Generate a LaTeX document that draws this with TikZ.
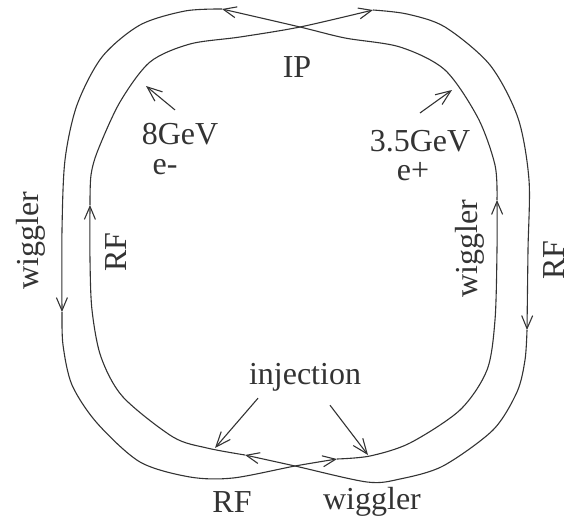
\documentclass[tikz,border=0pt]{standalone}
\usepackage{fontspec}
\setmainfont{Liberation Serif}
\usetikzlibrary{arrows.meta}
\begin{document}
\begin{tikzpicture}[x=1pt,y=-1pt,
  beam/.style={line width=1.1pt,draw=black!80,-{Straight Barb[length=13pt,width=11pt]}},
  ptr/.style={line width=1.1pt,draw=black!80,-{Straight Barb[length=15pt,width=12pt]}},
  lbl/.style={text=black!80,font=\fontsize{32}{38}\selectfont,inner sep=0pt}]
  \useasboundingbox (0,0) rectangle (571,523);
  % ring with outer arc on the left, inner arc on the right
  \draw[beam] plot[smooth] coordinates {(337,459) (370,456) (410,443) (460,410) (487,370) (495,320) (497,250) (497,200)};
  \draw[beam] plot[smooth] coordinates {(497,200) (495,165) (478,118) (445,70) (400,47) (345,38) (300,27) (222,9)};
  \draw[beam] plot[smooth] coordinates {(222,9) (185,11) (140,25) (102,57) (77,105) (65,160) (62,230) (62,312)};
  \draw[beam] plot[smooth] coordinates {(62,312) (63,345) (72,385) (97,423) (140,462) (190,477) (233,478) (295,466) (337,459)};
  % ring with inner arc on the left, outer arc on the right
  \draw[beam] plot[smooth] coordinates {(245,455) (207,448) (173,437) (123,397) (101,357) (92,310) (90,260) (90,205)};
  \draw[beam] plot[smooth] coordinates {(90,205) (91,175) (98,150) (120,102) (150,62) (190,44) (240,37) (300,27) (373,10)};
  \draw[beam] plot[smooth] coordinates {(373,10) (407,14) (445,27) (490,65) (518,118) (529,180) (528,250) (527,330)};
  \draw[beam] plot[smooth] coordinates {(527,330) (525,360) (517,392) (493,430) (443,466) (400,479) (367,482) (295,466) (245,455)};
  % labels
  \node[lbl] (ip) at (297,67) {IP};
  \node[lbl] (gev8) at (180,134) {8GeV};
  \node[lbl] (em) at (165,167) {e-};
  \node[lbl] (gev35) at (420,141) {3.5GeV};
  \node[lbl] (ep) at (413,172) {e+};
  \node[lbl,rotate=90] (wigL) at (31,241) {wiggler};
  \node[lbl,rotate=90] (rfL) at (116,252) {RF};
  \node[lbl,rotate=90] (wigR) at (470,249) {wiggler};
  \node[lbl,rotate=90] (rfR) at (554,260) {RF};
  \node[lbl] (inj) at (305,377) {injection};
  \node[lbl] (rfB) at (232,502) {RF};
  \node[lbl] (wigB) at (372,502) {wiggler};
  % pointers
  \coordinate (tip8) at (146,86);
  \coordinate (tip35) at (452,90);
  \coordinate (injA) at (215,448);
  \coordinate (injB) at (368,455);
  \draw[ptr] ([shift={(-5,-13)}]gev8.north) -- (tip8);
  \draw[ptr] ([shift={(0,-17)}]gev35.north) -- (tip35);
  \draw[ptr] ([shift={(-47,7)}]inj.south) -- (injA);
  \draw[ptr] ([shift={(25,14)}]inj.south) -- (injB);
\end{tikzpicture}
\end{document}
